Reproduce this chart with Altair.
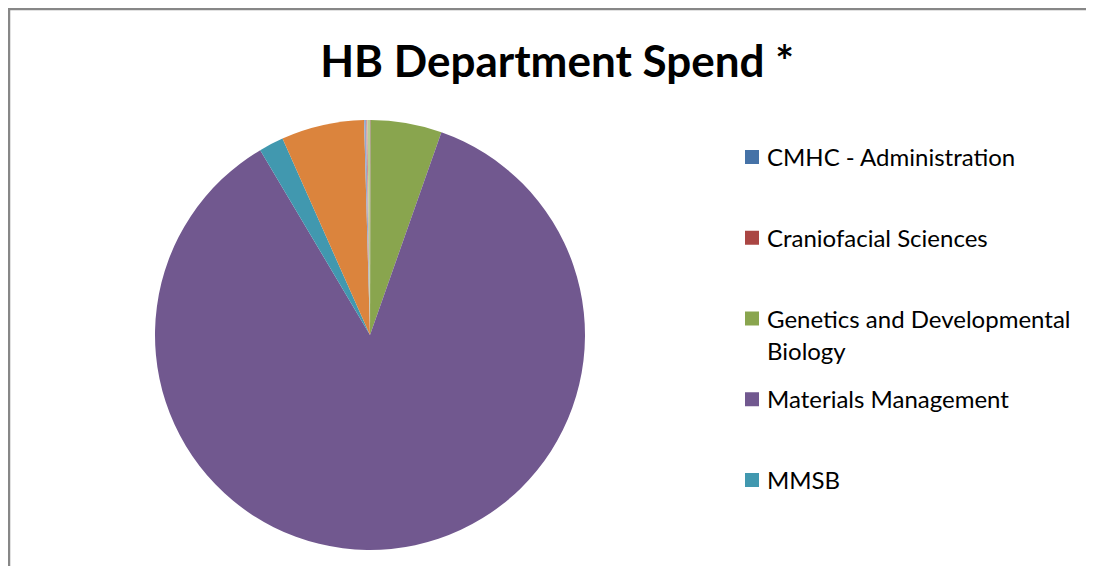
import altair as alt
import pandas as pd

# ---- data (share of spend, %) ----
departments = [
    "CMHC - Administration",
    "Craniofacial Sciences",
    "Genetics and Developmental Biology",
    "Materials Management",
    "MMSB",
    "Department 6 (not in legend)",
    "Department 7 (not in legend)",
    "Department 8 (not in legend)",
    "Department 9 (not in legend)",
]
spend_share = [0.02, 0.03, 5.34, 86.08, 1.86, 6.23, 0.15, 0.10, 0.19]
slice_colors = ["#4572A7", "#AA4643", "#89A54E", "#71588F", "#4198AF",
                "#DB843D", "#93A9CF", "#D19392", "#B9CD96"]

legend_departments = departments[:5]
legend_labels = [
    "CMHC - Administration",
    "Craniofacial Sciences",
    "Genetics and Developmental\nBiology",
    "Materials Management",
    "MMSB",
]
title_text = "HB Department Spend *"

pie_df = pd.DataFrame({"department": departments,
                       "spend": spend_share,
                       "order": list(range(len(departments)))})
legend_df = pd.DataFrame({"department": legend_departments, "label": legend_labels})
title_df = pd.DataFrame({"t": [title_text]})
one_row = pd.DataFrame({"k": [0]})

W, H = 1078, 558
FONT = "Lato"

color_scale = alt.Scale(domain=departments, range=slice_colors)

pie = alt.Chart(pie_df).mark_arc(radius=215).encode(
    theta=alt.Theta("spend:Q", stack=True),
    color=alt.Color("department:N", scale=color_scale, legend=None),
    order=alt.Order("order:Q"),
    x=alt.value(362),
    y=alt.value(327),
)

leg_y = alt.Y("department:N", sort=legend_departments,
              scale=alt.Scale(type="point", range=[149, 472], padding=0),
              axis=None)

leg_squares = alt.Chart(legend_df).mark_square(size=196, opacity=1).encode(
    y=leg_y,
    x=alt.value(744),
    color=alt.Color("department:N", scale=color_scale, legend=None),
)

leg_text = alt.Chart(legend_df).mark_text(
    align="left", baseline="top", dy=-10, font=FONT, fontSize=24,
    lineBreak="\n", lineHeight=32, color="#000000",
).encode(
    y=leg_y,
    x=alt.value(759),
    text="label:N",
)

title = alt.Chart(title_df).mark_text(
    font=FONT, fontSize=44, fontWeight="bold", align="center",
    baseline="alphabetic", color="#000000",
).encode(text="t:N", x=alt.value(549), y=alt.value(69))

frame_top = alt.Chart(one_row).mark_rule(color="#878787", strokeWidth=2.5).encode(
    x=alt.value(0), x2=alt.value(W), y=alt.value(1))
frame_left = alt.Chart(one_row).mark_rule(color="#878787", strokeWidth=2.5).encode(
    x=alt.value(1), y=alt.value(0), y2=alt.value(H))

chart = alt.layer(frame_top, frame_left, pie, leg_squares, leg_text, title).properties(
    width=W, height=H, padding=0, autosize="none", background="white"
).configure_view(stroke=None)

chart.save("out.html", embed_options={"renderer": "svg", "actions": False})
